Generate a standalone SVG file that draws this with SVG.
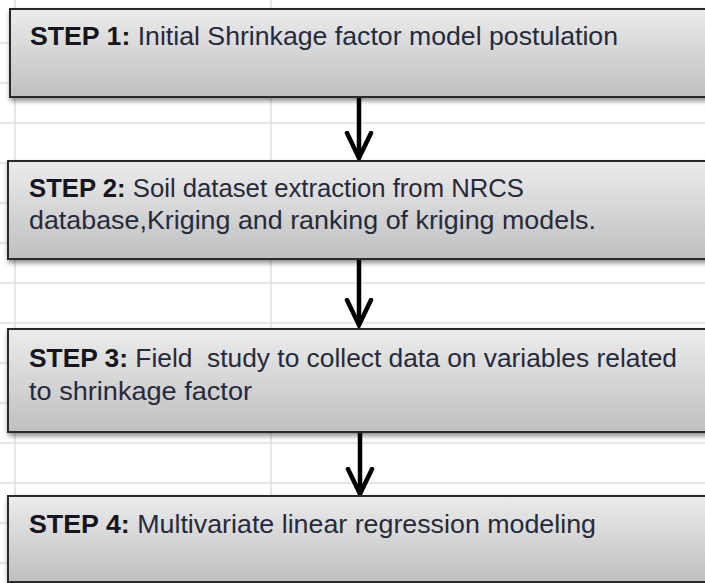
<svg xmlns="http://www.w3.org/2000/svg" width="705" height="583" viewBox="0 0 705 583">
  <defs>
    <linearGradient id="boxFill" x1="0" y1="0" x2="0" y2="1">
      <stop offset="0" stop-color="#ececec"/>
      <stop offset="1" stop-color="#bfbfbf"/>
    </linearGradient>
    <filter id="shadow" x="-5%" y="-10%" width="115%" height="130%">
      <feDropShadow dx="1" dy="3" stdDeviation="2.5" flood-color="#000" flood-opacity="0.45"/>
    </filter>
    <!-- open chevron head, drawn pointing along +x so orient="auto" aims it down the line -->
    <marker id="chevron" viewBox="0 0 30 30" refX="27" refY="15" markerWidth="30" markerHeight="30" markerUnits="userSpaceOnUse" orient="auto">
      <path d="M2 3 L27 15 L2 27" fill="none" stroke="#000" stroke-width="4.5" stroke-linejoin="miter" stroke-linecap="round"/>
    </marker>
  </defs>
  <style>
    .grid { stroke: #dedede; stroke-width: 1.5; }
    .box { fill: url(#boxFill); stroke: #2a2a2a; stroke-width: 2; filter: url(#shadow); }
    .label { font-family: "Liberation Sans", Arial, sans-serif; font-size: 25px; fill: #262a3a; white-space: pre; }
    .step { font-weight: bold; fill: #151520; }
    .arrow { stroke: #000; stroke-width: 4.5; fill: none; }
  </style>

  <!-- worksheet background -->
  <rect x="0" y="0" width="705" height="583" fill="#fff"/>
  <g id="grid">
    <line class="grid" x1="15" y1="0" x2="15" y2="583"/>
    <line class="grid" x1="271" y1="0" x2="271" y2="583"/>
    <line class="grid" x1="0" y1="43" x2="705" y2="43"/>
    <line class="grid" x1="0" y1="83" x2="705" y2="83"/>
    <line class="grid" x1="0" y1="123" x2="705" y2="123"/>
    <line class="grid" x1="0" y1="163" x2="705" y2="163"/>
    <line class="grid" x1="0" y1="203" x2="705" y2="203"/>
    <line class="grid" x1="0" y1="243" x2="705" y2="243"/>
    <line class="grid" x1="0" y1="283" x2="705" y2="283"/>
    <line class="grid" x1="0" y1="323" x2="705" y2="323"/>
    <line class="grid" x1="0" y1="363" x2="705" y2="363"/>
    <line class="grid" x1="0" y1="403" x2="705" y2="403"/>
    <line class="grid" x1="0" y1="443" x2="705" y2="443"/>
    <line class="grid" x1="0" y1="483" x2="705" y2="483"/>
    <line class="grid" x1="0" y1="523" x2="705" y2="523"/>
    <line class="grid" x1="0" y1="563" x2="705" y2="563"/>
  </g>

  <!-- connectors -->
  <g id="connectors">
    <line class="arrow" x1="359" y1="97" x2="359" y2="158" marker-end="url(#chevron)"/>
    <line class="arrow" x1="359" y1="259" x2="359" y2="325" marker-end="url(#chevron)"/>
    <line class="arrow" x1="360" y1="432" x2="360" y2="494" marker-end="url(#chevron)"/>
  </g>

  <g id="step1">
    <rect class="box" x="10" y="9" width="720" height="88"/>
    <text class="label" x="30" y="45" textLength="588" lengthAdjust="spacingAndGlyphs"><tspan class="step">STEP 1:</tspan> Initial Shrinkage factor model postulation</text>
  </g>

  <g id="step2">
    <rect class="box" x="8" y="161" width="720" height="98"/>
    <text class="label" x="29" y="197" textLength="495" lengthAdjust="spacingAndGlyphs"><tspan class="step">STEP 2:</tspan> Soil dataset extraction from NRCS</text>
    <text class="label" x="29" y="229" textLength="567" lengthAdjust="spacingAndGlyphs">database,Kriging and ranking of kriging models.</text>
  </g>

  <g id="step3">
    <rect class="box" x="8" y="329" width="720" height="103"/>
    <text class="label" x="29" y="367" textLength="648" lengthAdjust="spacingAndGlyphs"><tspan class="step">STEP 3:</tspan> Field  study to collect data on variables related</text>
    <text class="label" x="29" y="400" textLength="223" lengthAdjust="spacingAndGlyphs">to shrinkage factor</text>
  </g>

  <g id="step4">
    <rect class="box" x="8" y="496" width="720" height="86"/>
    <text class="label" x="29" y="533" textLength="567" lengthAdjust="spacingAndGlyphs"><tspan class="step">STEP 4:</tspan> Multivariate linear regression modeling</text>
  </g>
</svg>
